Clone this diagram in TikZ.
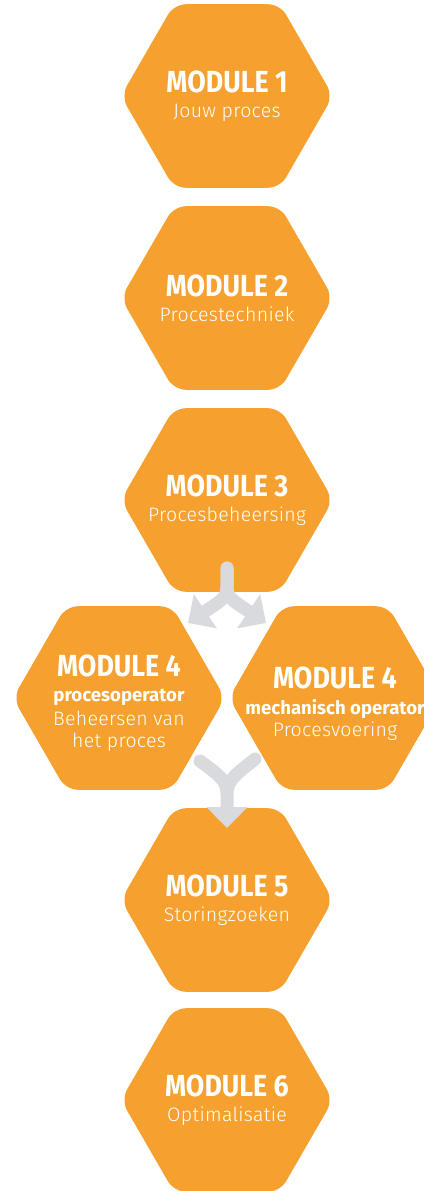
\documentclass[tikz,border=0pt]{standalone}
\usepackage{fontspec}
\setmainfont{Fira Sans}
\newfontfamily\titlefont[FakeStretch=0.88]{Fira Sans}
\newfontfamily\subfont[LetterSpace=1.5]{Fira Sans Light}
\usetikzlibrary{shapes.geometric,arrows.meta}

\definecolor{modoranje}{HTML}{F5A02F}
\definecolor{pijlgrijs}{HTML}{D9DADE}

\newcommand{\modtitel}{\titlefont\bfseries\fontsize{30.5}{30}\selectfont}
\newcommand{\modrol}{\bfseries\fontsize{18.6}{24}\selectfont}
\newcommand{\modsub}{\subfont\fontsize{19.5}{24}\selectfont}

\tikzset{
  hexa/.style={regular polygon, regular polygon sides=6, minimum size=212pt,
    inner sep=0pt, fill=modoranje, rounded corners=12pt},
  modtekst/.style={text=white, align=center, font=\fontsize{17}{23}\selectfont},
  pijl/.style={draw=pijlgrijs, line width=13pt, line cap=round},
  pijlpunt/.style={-{Triangle[width=40pt,length=21pt,fill=pijlgrijs]}}
}

\begin{document}
\begin{tikzpicture}[x=1pt, y=-1pt]
      \useasboundingbox (0,0) rectangle (423,1191);

      %zeshoeken
      \node[hexa] (m1) at (227,96) {};
      \node[hexa] (m2) at (227,298) {};
      \node[hexa] (m3) at (227,500) {};
      \node[hexa] (m4a) at (119,698) {};
      \node[hexa] (m4b) at (335,698) {};
      \node[hexa] (m5) at (227,900) {};
      \node[hexa] (m6) at (227,1100) {};

      %teksten
      \node[modtekst] (t1) at (m1) {{\modtitel MODULE 1}\\[2pt]{\modsub Jouw proces}};
      \node[modtekst] (t2) at (m2) {{\modtitel MODULE 2}\\[2pt]{\modsub Procestechniek}};
      \node[modtekst] (t3) at (m3) {{\modtitel MODULE 3}\\[2pt]{\modsub Procesbeheersing}};
      \node[modtekst] (t4a) at ([yshift=-5pt]m4a.center) {{\modtitel MODULE 4}\\[2pt]{\modrol procesoperator}\\[1pt]{\modsub Beheersen van}\\[-1pt]{\modsub het proces}};
      \node[modtekst] (t4b) at ([yshift=-6pt]m4b.center) {{\modtitel MODULE 4}\\[3pt]{\modrol mechanisch operator}\\[-1pt]{\modsub Procesvoering}};
      \node[modtekst] (t5) at (m5) {{\modtitel MODULE 5}\\[2pt]{\modsub Storingzoeken}};
      \node[modtekst] (t6) at (m6) {{\modtitel MODULE 6}\\[2pt]{\modsub Optimalisatie}};

      %splitsing na module 3
      \coordinate (s0) at (227,568);
      \coordinate (s1) at (227,586);
      \coordinate (sl) at (188,623);
      \coordinate (sr) at (266,623);
      \draw[pijl, pijlpunt] (s0) -- (s1) .. controls (227,598) and (222,600) .. (sl);
      \draw[pijl, pijlpunt] (s0) -- (s1) .. controls (227,598) and (232,600) .. (sr);

      %samenkomst naar module 5
      \coordinate (jl) at (200,761);
      \coordinate (jr) at (255,759);
      \coordinate (j1) at (227,792);
      \coordinate (j2) at (227,828);
      \draw[pijl, pijlpunt] (jl) .. controls (216,773) and (227,780) .. (j1) -- (j2);
      \draw[pijl] (jr) .. controls (239,772) and (227,780) .. (j1);
    \end{tikzpicture}
\end{document}
